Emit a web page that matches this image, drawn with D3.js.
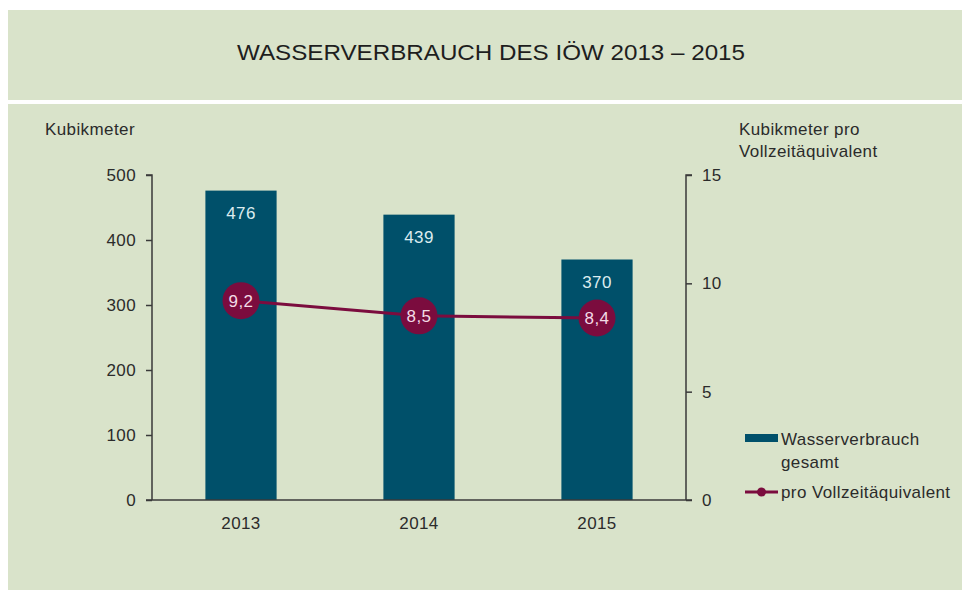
<!DOCTYPE html>
<html>
<head>
<meta charset="utf-8">
<script src="https://cdn.jsdelivr.net/npm/d3@7"></script>
<style>
  body { margin: 0; background: #fff; }
  svg { display: block; font-family: "Liberation Sans", Arial, sans-serif; }
</style>
</head>
<body>
<script>
// daten
var years = ["2013", "2014", "2015"];
var verbrauch = [476, 439, 370];
var proVZA = [9.2, 8.5, 8.4];
var leftTicks = [0, 100, 200, 300, 400, 500];
var rightTicks = [0, 5, 10, 15];

var width = 962, height = 590;
var bg = "#d9e3ca", barColor = "#00506a", lineColor = "#7b0c3e", txt = "#2b2b2b";
var fs = 17;

var svg = d3.select("body").append("svg").attr("width", width).attr("height", height)
  .style("letter-spacing", "0.4px");

// hintergrund
svg.append("rect").attr("x", 8).attr("y", 10).attr("width", width - 8).attr("height", 90).attr("fill", bg);
svg.append("rect").attr("x", 8).attr("y", 104).attr("width", width - 8).attr("height", height - 104).attr("fill", bg);

svg.append("text")
  .attr("x", 491).attr("y", 60)
  .attr("text-anchor", "middle")
  .attr("font-size", 22)
  .attr("fill", "#1e1e1e")
  .attr("textLength", 508)
  .attr("lengthAdjust", "spacingAndGlyphs")
  .style("letter-spacing", "0px")
  .text("WASSERVERBRAUCH DES IÖW 2013 – 2015");

var x = d3.scaleBand().domain(years).range([152, 686]).paddingInner(0.6).paddingOuter(0.3);
var y = d3.scaleLinear().domain([0, 500]).range([500, 175]);
var y2 = d3.scaleLinear().domain([0, 15]).range([500, 175]);

// balken
svg.selectAll(".bar").data(verbrauch).enter().append("rect")
  .attr("x", function(d, i) { return x(years[i]); })
  .attr("y", function(d) { return y(d); })
  .attr("width", x.bandwidth())
  .attr("height", function(d) { return y(0) - y(d); })
  .attr("fill", barColor);

svg.selectAll(".barlab").data(verbrauch).enter().append("text")
  .attr("x", function(d, i) { return x(years[i]) + x.bandwidth() / 2; })
  .attr("y", function(d) { return y(d) + 28; })
  .attr("text-anchor", "middle")
  .attr("font-size", fs)
  .attr("fill", "#dcecef")
  .text(function(d) { return d; });

// achsen
var axL = svg.append("g").attr("transform", "translate(152,0)")
  .call(d3.axisLeft(y).tickValues(leftTicks).tickSize(6).tickPadding(10));
var axR = svg.append("g").attr("transform", "translate(686,0)")
  .call(d3.axisRight(y2).tickValues(rightTicks).tickSize(6).tickPadding(10));
[axL, axR].forEach(function(a) {
  a.select(".domain").attr("stroke", "#3a3a3a").attr("stroke-width", 1.5);
  a.selectAll(".tick line").attr("stroke", "#3a3a3a").attr("stroke-width", 1.5);
  a.selectAll(".tick text").attr("font-size", fs).attr("fill", txt)
    .style("font-family", "Liberation Sans, Arial, sans-serif");
});
axR.select(".domain").attr("d", "M6,175H0V500");
axL.select(".domain").attr("d", "M-6,175H0V500");

svg.append("line").attr("x1", 146).attr("x2", 692).attr("y1", 500).attr("y2", 500)
  .attr("stroke", "#3a3a3a").attr("stroke-width", 1.5);

svg.selectAll(".xlab").data(years).enter().append("text")
  .attr("x", function(d) { return x(d) + x.bandwidth() / 2; })
  .attr("y", 529)
  .attr("text-anchor", "middle")
  .attr("font-size", fs)
  .attr("fill", txt)
  .text(function(d) { return d; });

// linie
var line = d3.line()
  .x(function(d, i) { return x(years[i]) + x.bandwidth() / 2; })
  .y(function(d) { return y2(d); });
svg.append("path").attr("d", line(proVZA)).attr("fill", "none")
  .attr("stroke", lineColor).attr("stroke-width", 3);

svg.selectAll(".dot").data(proVZA).enter().append("circle")
  .attr("cx", function(d, i) { return x(years[i]) + x.bandwidth() / 2; })
  .attr("cy", function(d) { return y2(d); })
  .attr("r", 18.5)
  .attr("fill", lineColor);

svg.selectAll(".dotlab").data(proVZA).enter().append("text")
  .attr("x", function(d, i) { return x(years[i]) + x.bandwidth() / 2; })
  .attr("y", function(d) { return y2(d) + 6; })
  .attr("text-anchor", "middle")
  .attr("font-size", fs)
  .attr("fill", "#f3dbe6")
  .text(function(d) { return String(d).replace(".", ","); });

// achsentitel
svg.append("text").attr("x", 45).attr("y", 135).attr("font-size", fs).attr("fill", txt).text("Kubikmeter");
svg.append("text").attr("x", 739).attr("y", 135).attr("font-size", fs).attr("fill", txt).text("Kubikmeter pro");
svg.append("text").attr("x", 739).attr("y", 157).attr("font-size", fs).attr("fill", txt).text("Vollzeitäquivalent");

// legende
svg.append("rect").attr("x", 745).attr("y", 434).attr("width", 33).attr("height", 8).attr("fill", barColor);
svg.append("text").attr("x", 781).attr("y", 445).attr("font-size", fs).attr("fill", txt).text("Wasserverbrauch");
svg.append("text").attr("x", 781).attr("y", 468).attr("font-size", fs).attr("fill", txt).text("gesamt");
svg.append("line").attr("x1", 745).attr("x2", 778).attr("y1", 492).attr("y2", 492)
  .attr("stroke", lineColor).attr("stroke-width", 3);
svg.append("circle").attr("cx", 761.5).attr("cy", 492).attr("r", 4.5).attr("fill", lineColor);
svg.append("text").attr("x", 781).attr("y", 498).attr("font-size", fs).attr("fill", txt).text("pro Vollzeitäquivalent");
</script>
</body>
</html>
